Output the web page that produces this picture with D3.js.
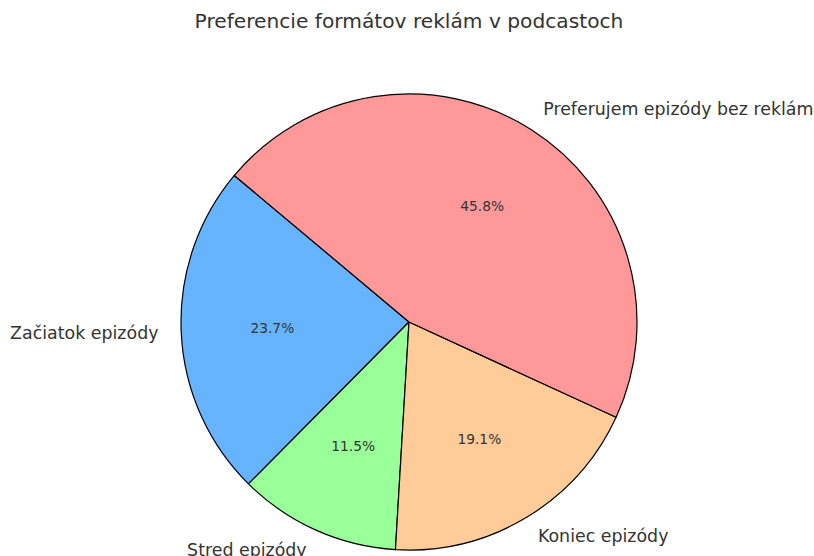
<!DOCTYPE html>
<html>
<head>
<meta charset="utf-8">
<script src="https://cdn.jsdelivr.net/npm/d3@7"></script>
<style>
  html, body { margin: 0; padding: 0; background: #fff; }
  text { font-family: "DejaVu Sans", sans-serif; fill: #333; }
</style>
</head>
<body>
<svg id="chart" width="814" height="556"></svg>
<script>
// Ad format preferences among podcast listeners (share of respondents, %)
const categories = ["Začiatok epizódy", "Stred epizódy", "Koniec epizódy", "Preferujem epizódy bez reklám"];
const shares = [23.7, 11.5, 19.1, 45.8];
const colors = ["#66b3ff", "#99ff99", "#ffcc99", "#ff9999"];
const title = "Preferencie formátov reklám v podcastoch";

const svg = d3.select("#chart");
const cx = 409, cy = 322, R = 228;
const startDeg = 140; // first wedge begins here, counter-clockwise

svg.append("text")
  .attr("x", 409).attr("y", 28)
  .attr("text-anchor", "middle")
  .style("font-size", "20.2px")
  .text(title);

const data = categories.map((c, i) => ({ label: c, value: shares[i], color: colors[i] }));

// d3 angles run clockwise from 12 o'clock; convert from math angles (ccw from 3 o'clock)
const toD3 = deg => (90 - deg) * Math.PI / 180;
const pie = d3.pie().sort(null).value(d => d.value)
  .startAngle(toD3(startDeg)).endAngle(toD3(startDeg) - 2 * Math.PI);
const arcs = pie(data);
const arc = d3.arc().innerRadius(0).outerRadius(R);

const g = svg.append("g").attr("transform", `translate(${cx},${cy})`);

g.selectAll("path.slice").data(arcs).join("path")
  .attr("class", "slice")
  .attr("d", arc)
  .attr("fill", d => d.data.color)
  .attr("stroke", "#000")
  .attr("stroke-width", 1.2)
  .attr("stroke-linejoin", "round");

const mid = d => (d.startAngle + d.endAngle) / 2;

// category labels just outside the rim
g.selectAll("text.lbl").data(arcs).join("text")
  .attr("class", "lbl")
  .attr("x", d => 1.1 * R * Math.sin(mid(d)))
  .attr("y", d => -1.1 * R * Math.cos(mid(d)))
  .attr("dy", "0.3em")
  .attr("text-anchor", d => Math.sin(mid(d)) >= 0 ? "start" : "end")
  .style("font-size", "17.4px")
  .text(d => d.data.label);

// percentage labels inside each wedge
g.selectAll("text.pct").data(arcs).join("text")
  .attr("class", "pct")
  .attr("x", d => 0.6 * R * Math.sin(mid(d)))
  .attr("y", d => -0.6 * R * Math.cos(mid(d)))
  .attr("dy", "0.33em")
  .attr("text-anchor", "middle")
  .style("font-size", "13.8px")
  .text(d => d.data.value.toFixed(1) + "%");
</script>
</body>
</html>
